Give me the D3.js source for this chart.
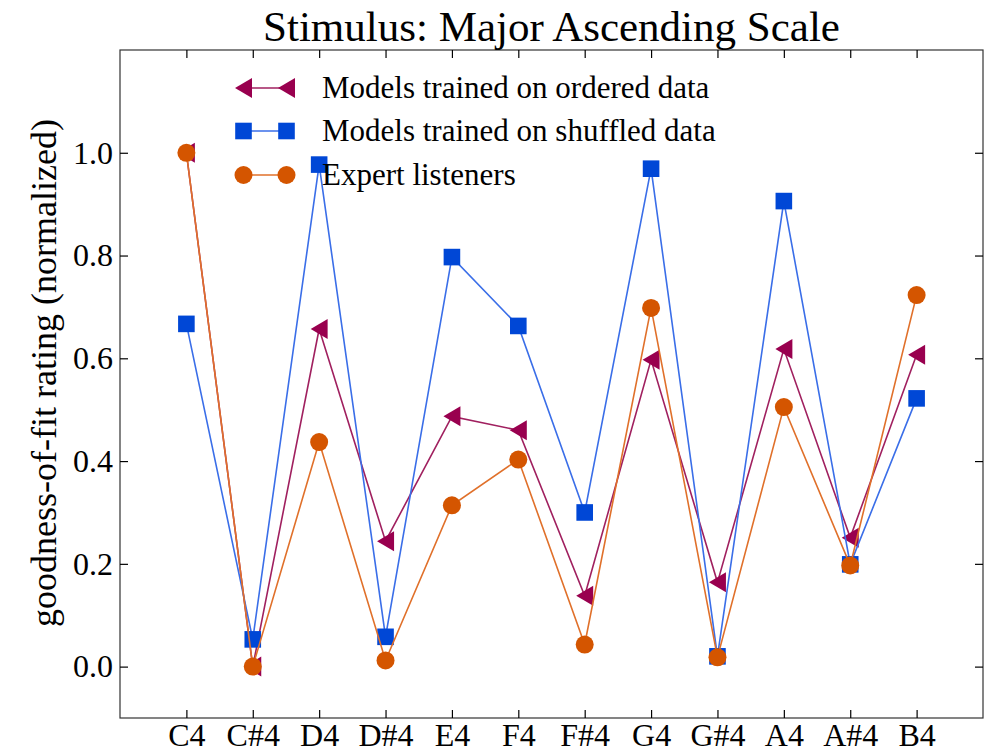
<!DOCTYPE html>
<html><head><meta charset="utf-8">
<script src="https://cdn.jsdelivr.net/npm/d3@7/dist/d3.min.js"></script>
<style>body{margin:0;background:#fff}svg{display:block}text{font-family:"Liberation Serif","DejaVu Serif",serif;fill:#000}</style>
</head><body>
<script>
const categories = ["C4","C#4","D4","D#4","E4","F4","F#4","G4","G#4","A4","A#4","B4"];
const orderedValues = [1.0,0.0,0.657,0.244,0.487,0.460,0.138,0.597,0.164,0.618,0.251,0.607];
const shuffledValues = [0.667,0.053,0.977,0.058,0.797,0.663,0.300,0.969,0.020,0.906,0.199,0.522];
const expertValues = [1.0,0.0,0.437,0.012,0.314,0.403,0.043,0.698,0.018,0.505,0.197,0.723];
const yTicks = [0.0,0.2,0.4,0.6,0.8,1.0];
const seriesNames = ["Models trained on ordered data","Models trained on shuffled data","Expert listeners"];

const W=998,H=755;
const L=120,R=983,T=50,B=718;
const svg=d3.select("body").append("svg").attr("width",W).attr("height",H);
const x=d3.scaleLinear().domain([-1,12]).range([L,R]);
const y=d3.scaleLinear().domain([-0.1,1.2]).range([B,T]);

const series=[
 {name:seriesNames[0],values:orderedValues,line:"#a0205f",fill:"#99004f",shape:"tri"},
 {name:seriesNames[1],values:shuffledValues,line:"#3a6ee8",fill:"#0047d6",shape:"sq"},
 {name:seriesNames[2],values:expertValues,line:"#e0702a",fill:"#d45500",shape:"circ"}
];

function marker(g,shape,cx,cy,c){
  if(shape==="tri"){
    g.append("path").attr("d",`M${cx-8.5},${cy} L${cx+8.5},${cy-10} L${cx+8.5},${cy+10} Z`).attr("fill",c);
  } else if(shape==="sq"){
    const s=8.3;
    g.append("rect").attr("x",cx-s).attr("y",cy-s).attr("width",2*s).attr("height",2*s).attr("fill",c);
  } else {
    g.append("circle").attr("cx",cx).attr("cy",cy).attr("r",9).attr("fill",c);
  }
}

const plot=svg.append("g");
series.forEach(s=>{
  const line=d3.line().x((d,i)=>x(i)).y(d=>y(d));
  plot.append("path").datum(s.values).attr("d",line).attr("fill","none").attr("stroke",s.line).attr("stroke-width",1.6);
  s.values.forEach((v,i)=>marker(plot,s.shape,x(i),y(v),s.fill));
});

// frame
svg.append("rect").attr("x",L).attr("y",T).attr("width",R-L).attr("height",B-T).attr("fill","none").attr("stroke","#333").attr("stroke-width",1.2);

// axes
const xb=d3.axisBottom(x).tickValues(d3.range(categories.length)).tickFormat(i=>categories[i]).tickSize(-8).tickPadding(5);
const xt=d3.axisTop(x).tickValues(d3.range(categories.length)).tickFormat("").tickSize(-8);
const yl=d3.axisLeft(y).tickValues(yTicks).tickFormat(d3.format(".1f")).tickSize(-8).tickPadding(7);
const yr=d3.axisRight(y).tickValues(yTicks).tickFormat("").tickSize(-8);
function style(g){g.select(".domain").remove();g.selectAll("line").attr("stroke","#000").attr("stroke-width",1.2);g.selectAll("text").style("font-size","32px").attr("fill","#000");}
svg.append("g").attr("transform",`translate(0,${B})`).call(xb).call(style);
svg.append("g").attr("transform",`translate(0,${T})`).call(xt).call(style);
svg.append("g").attr("transform",`translate(${L},0)`).call(yl).call(style);
svg.append("g").attr("transform",`translate(${R},0)`).call(yr).call(style);

// title
svg.append("text").attr("x",(L+R)/2).attr("y",41).attr("text-anchor","middle").style("font-size","43px").text("Stimulus: Major Ascending Scale");
// y label
svg.append("text").attr("transform",`translate(56,${373}) rotate(-90)`).attr("text-anchor","middle").style("font-size","36px").text("goodness-of-fit rating (normalized)");

// legend
const leg=svg.append("g");
const lx1=243.5,lx2=286.5,ly=[88,131,175];
series.forEach((s,i)=>{
  leg.append("line").attr("x1",lx1).attr("x2",lx2).attr("y1",ly[i]).attr("y2",ly[i]).attr("stroke",s.line).attr("stroke-width",1.6);
  marker(leg,s.shape,lx1,ly[i],s.fill);
  marker(leg,s.shape,lx2,ly[i],s.fill);
  leg.append("text").attr("x",322).attr("y",ly[i]+10).style("font-size","31px").text(s.name);
});
</script>
</body></html>
